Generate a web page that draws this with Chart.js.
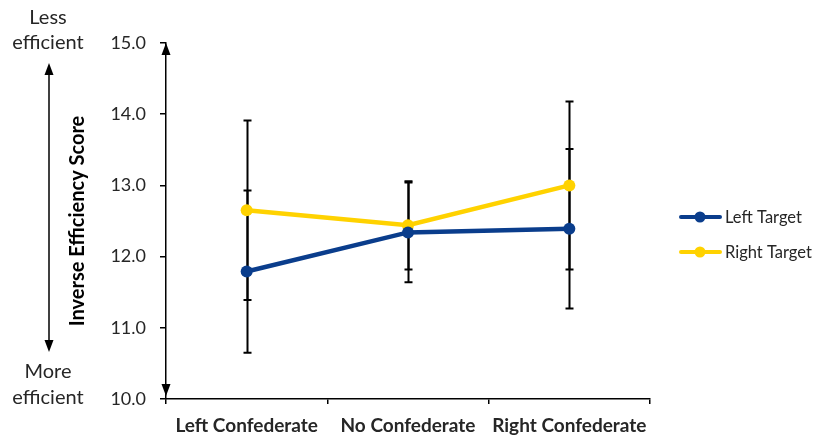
<!DOCTYPE html>
<html>
<head>
<meta charset="utf-8">
<script src="https://cdn.jsdelivr.net/npm/chart.js@4/dist/chart.umd.min.js"></script>
<style>
  html, body { margin: 0; padding: 0; background: #fff; }
  #wrap { width: 816px; height: 439px; }
</style>
</head>
<body>
<div id="wrap"><canvas id="c" width="816" height="439"></canvas></div>
<script>
const categories = ['Left Confederate', 'No Confederate', 'Right Confederate'];
const seriesNames = ['Left Target', 'Right Target'];
const leftTarget = [11.79, 12.34, 12.39];
const rightTarget = [12.65, 12.44, 13.00];
const leftTargetErr = [1.14, 0.70, 1.12];
const rightTargetErr = [1.26, 0.62, 1.18];
const yMin = 10, yMax = 15, yStep = 1;
const yTitle = 'Inverse Efficiency Score';
const topNote = ['Less', 'efficient'];
const bottomNote = ['More', 'efficient'];

const BLUE = '#0a3d8c';
const YELLOW = '#ffd200';
const FONT = 'Lato, "Open Sans", sans-serif';
const TXT = '#262626';

const errorBars = {
  id: 'errorBars',
  beforeDatasetsDraw(chart) {
    const ctx = chart.ctx, ys = chart.scales.y;
    const errs = [leftTargetErr, rightTargetErr];
    ctx.save();
    ctx.strokeStyle = '#000';
    ctx.lineWidth = 2;
    chart.data.datasets.forEach((ds, i) => {
      const meta = chart.getDatasetMeta(i);
      meta.data.forEach((pt, j) => {
        const v = ds.data[j], e = errs[i][j];
        const x = Math.round(pt.x) + 0.5;
        const yt = ys.getPixelForValue(v + e), yb = ys.getPixelForValue(v - e);
        ctx.beginPath();
        ctx.moveTo(x, yt); ctx.lineTo(x, yb);
        ctx.moveTo(x - 4, yt); ctx.lineTo(x + 4, yt);
        ctx.moveTo(x - 4, yb); ctx.lineTo(x + 4, yb);
        ctx.stroke();
      });
    });
    ctx.restore();
  }
};

function arrowHead(ctx, x, tipY, dir) {
  ctx.beginPath();
  ctx.moveTo(x, tipY);
  ctx.lineTo(x - 4.5, tipY - dir * 12);
  ctx.lineTo(x + 4.5, tipY - dir * 12);
  ctx.closePath();
  ctx.fill();
}

const decorations = {
  id: 'decorations',
  afterDraw(chart) {
    const ctx = chart.ctx, ca = chart.chartArea;
    ctx.save();
    ctx.fillStyle = '#000';
    // axis arrowheads
    arrowHead(ctx, ca.left, ca.top, -1);
    arrowHead(ctx, ca.left, ca.bottom - 3, 1);
    // left annotation arrow
    const ax = 49, aTop = 63, aBot = 352;
    ctx.strokeStyle = '#000';
    ctx.lineWidth = 1.5;
    ctx.beginPath();
    ctx.moveTo(ax, aTop + 6); ctx.lineTo(ax, aBot - 6);
    ctx.stroke();
    arrowHead(ctx, ax, aTop, -1);
    arrowHead(ctx, ax, aBot, 1);
    // annotation text
    ctx.fillStyle = TXT;
    ctx.font = '20px ' + FONT;
    ctx.textAlign = 'center';
    ctx.textBaseline = 'middle';
    ctx.fillText(topNote[0], 48, 18);
    ctx.fillText(topNote[1], 48, 43);
    ctx.fillText(bottomNote[0], 48, 372);
    ctx.fillText(bottomNote[1], 48, 398);
    // legend
    const colors = [BLUE, YELLOW];
    ctx.font = '16.5px ' + FONT;
    ctx.textAlign = 'left';
    seriesNames.forEach((name, i) => {
      const y = 217 + i * 35;
      ctx.strokeStyle = colors[i];
      ctx.lineWidth = 4;
      ctx.lineCap = 'round';
      ctx.beginPath();
      ctx.moveTo(681, y); ctx.lineTo(720, y);
      ctx.stroke();
      ctx.fillStyle = colors[i];
      ctx.beginPath();
      ctx.arc(700, y, 5.5, 0, Math.PI * 2);
      ctx.fill();
      ctx.fillStyle = TXT;
      ctx.fillText(name, 725, y + 1);
    });
    ctx.restore();
  }
};

new Chart(document.getElementById('c'), {
  type: 'line',
  data: {
    labels: categories,
    datasets: [
      { label: seriesNames[0], data: leftTarget, borderColor: BLUE, backgroundColor: BLUE,
        borderWidth: 4.5, pointRadius: 6, pointHoverRadius: 6, pointBorderWidth: 0, tension: 0 },
      { label: seriesNames[1], data: rightTarget, borderColor: YELLOW, backgroundColor: YELLOW,
        borderWidth: 4.5, pointRadius: 6, pointHoverRadius: 6, pointBorderWidth: 0, tension: 0 }
    ]
  },
  options: {
    responsive: false,
    animation: false,
    devicePixelRatio: 1,
    layout: { padding: { left: 0, top: 43, right: 166, bottom: 0 } },
    plugins: { legend: { display: false }, tooltip: { enabled: false } },
    scales: {
      x: {
        type: 'category',
        offset: true,
        grid: { display: true, drawOnChartArea: false, drawTicks: true, tickLength: 5, color: '#000', lineWidth: 1.5, offset: true },
        border: { display: true, color: '#000', width: 1.5 },
        ticks: { color: TXT, font: { family: FONT, size: 19, weight: 'bold' }, padding: 10, maxRotation: 0 },
        afterFit(scale) { scale.height = 40; }
      },
      y: {
        min: yMin, max: yMax,
        grid: { display: true, drawOnChartArea: false, drawTicks: true, tickLength: 6, color: '#000', lineWidth: 1.5 },
        border: { display: true, color: '#000', width: 1.5 },
        ticks: { stepSize: yStep, color: TXT, font: { family: FONT, size: 18 }, padding: 14,
          callback: v => Number(v).toFixed(1) },
        title: { display: true, text: yTitle, color: '#000', font: { family: FONT, size: 20, weight: 'bold' },
          padding: { top: 66, bottom: 0 } },
        afterFit(scale) { scale.width = 166; }
      }
    }
  },
  plugins: [errorBars, decorations]
});
</script>
</body>
</html>
